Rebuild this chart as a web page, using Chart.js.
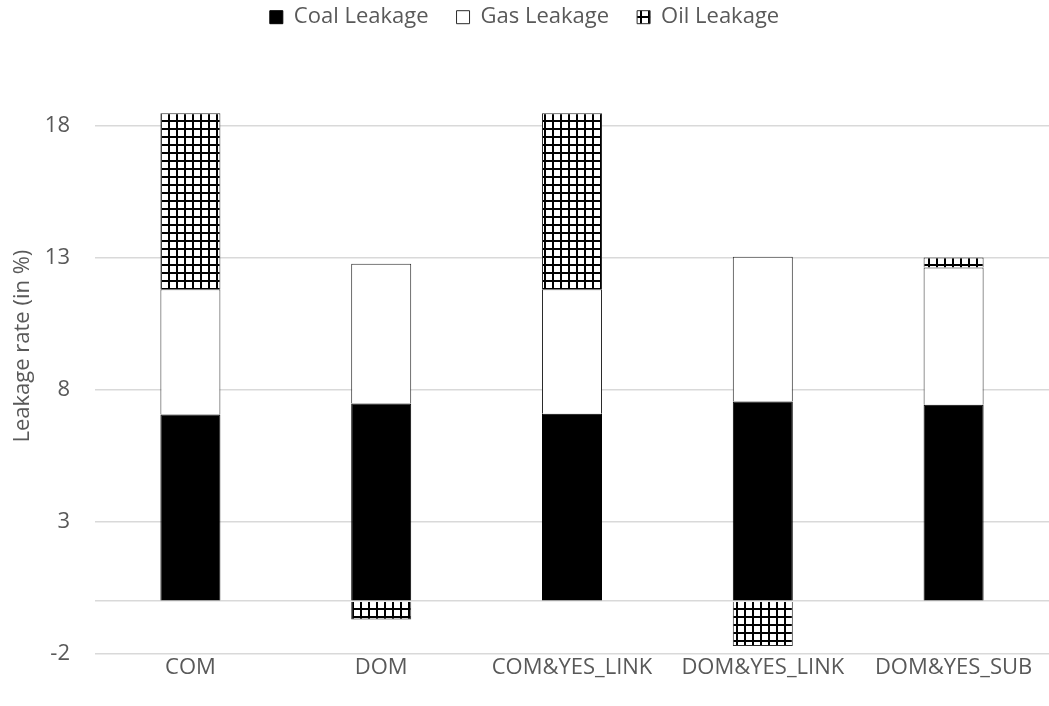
<!DOCTYPE html>
<html>
<head>
<meta charset="utf-8">
<script src="https://cdn.jsdelivr.net/npm/chart.js@4/dist/chart.umd.min.js"></script>
<style>
  html, body { margin: 0; padding: 0; background: #ffffff; }
  #wrap { width: 1049px; height: 706px; }
</style>
</head>
<body>
<div id="wrap"><canvas id="chart" width="1049" height="706"></canvas></div>
<script>
// Leakage rates by scenario (percent)
const categories = ['COM', 'DOM', 'COM&YES_LINK', 'DOM&YES_LINK', 'DOM&YES_SUB'];
const coalLeakage = [7.06, 7.48, 7.09, 7.55, 7.43];
const gasLeakage  = [4.74, 5.29, 4.71, 5.48, 5.19];
const oilLeakage  = [6.66, -0.69, 6.66, -1.70, 0.38];
const yTickValues = [-2, 0, 3, 8, 13, 18];

const TEXT = '#595959';
const FONT = "'Open Sans', 'DejaVu Sans', sans-serif";
const FONT_SIZE = 22;

// Small square-grid fill used for oil
function gridPattern() {
  const c = document.createElement('canvas');
  c.width = 8; c.height = 8;
  const g = c.getContext('2d');
  g.fillStyle = '#ffffff';
  g.fillRect(0, 0, 8, 8);
  g.fillStyle = '#000000';
  g.fillRect(0, 0, 8, 2);
  g.fillRect(0, 0, 2, 8);
  return document.getElementById('chart').getContext('2d').createPattern(c, 'repeat');
}

const ctx = document.getElementById('chart').getContext('2d');
new Chart(ctx, {
  type: 'bar',
  data: {
    labels: categories,
    datasets: [
      { label: 'Coal Leakage', data: coalLeakage, backgroundColor: '#000000', borderColor: '#000000', borderWidth: 1 },
      { label: 'Gas Leakage', data: gasLeakage, backgroundColor: '#ffffff', borderColor: '#2b2b2b', borderWidth: 1 },
      { label: 'Oil Leakage', data: oilLeakage, backgroundColor: gridPattern(), borderColor: '#2b2b2b', borderWidth: 1 }
    ]
  },
  options: {
    responsive: false,
    animation: false,
    devicePixelRatio: 1,
    layout: { padding: { top: -28, left: 0, right: 0, bottom: 0 } },
    datasets: { bar: { categoryPercentage: 1.0, barPercentage: 0.3145 } },
    plugins: {
      tooltip: { enabled: false },
      legend: {
        position: 'top',
        labels: {
          color: TEXT,
          font: { family: FONT, size: FONT_SIZE },
          boxWidth: 13,
          boxHeight: 13,
          padding: 28
        }
      }
    },
    scales: {
      x: {
        stacked: true,
        grid: { display: false, drawTicks: false },
        border: { display: false },
        ticks: { color: TEXT, font: { family: FONT, size: FONT_SIZE }, padding: 1, maxRotation: 0, autoSkip: false },
        afterFit: (s) => { s.height = 52; }
      },
      y: {
        stacked: true,
        min: -2,
        max: 21.3,
        afterBuildTicks: (s) => { s.ticks = yTickValues.map(v => ({ value: v })); },
        grid: { color: '#d9d9d9', lineWidth: 1.5, drawTicks: false },
        border: { display: false },
        ticks: {
          color: TEXT,
          font: { family: FONT, size: FONT_SIZE },
          padding: 25,
          callback: (v) => (v === 0 ? '' : String(v))
        },
        title: {
          display: true,
          text: 'Leakage rate (in %)',
          color: TEXT,
          font: { family: FONT, size: FONT_SIZE },
          padding: { top: 10, bottom: 0 }
        },
        afterFit: (s) => { s.width = 95; }
      }
    }
  }
});
</script>
</body>
</html>
